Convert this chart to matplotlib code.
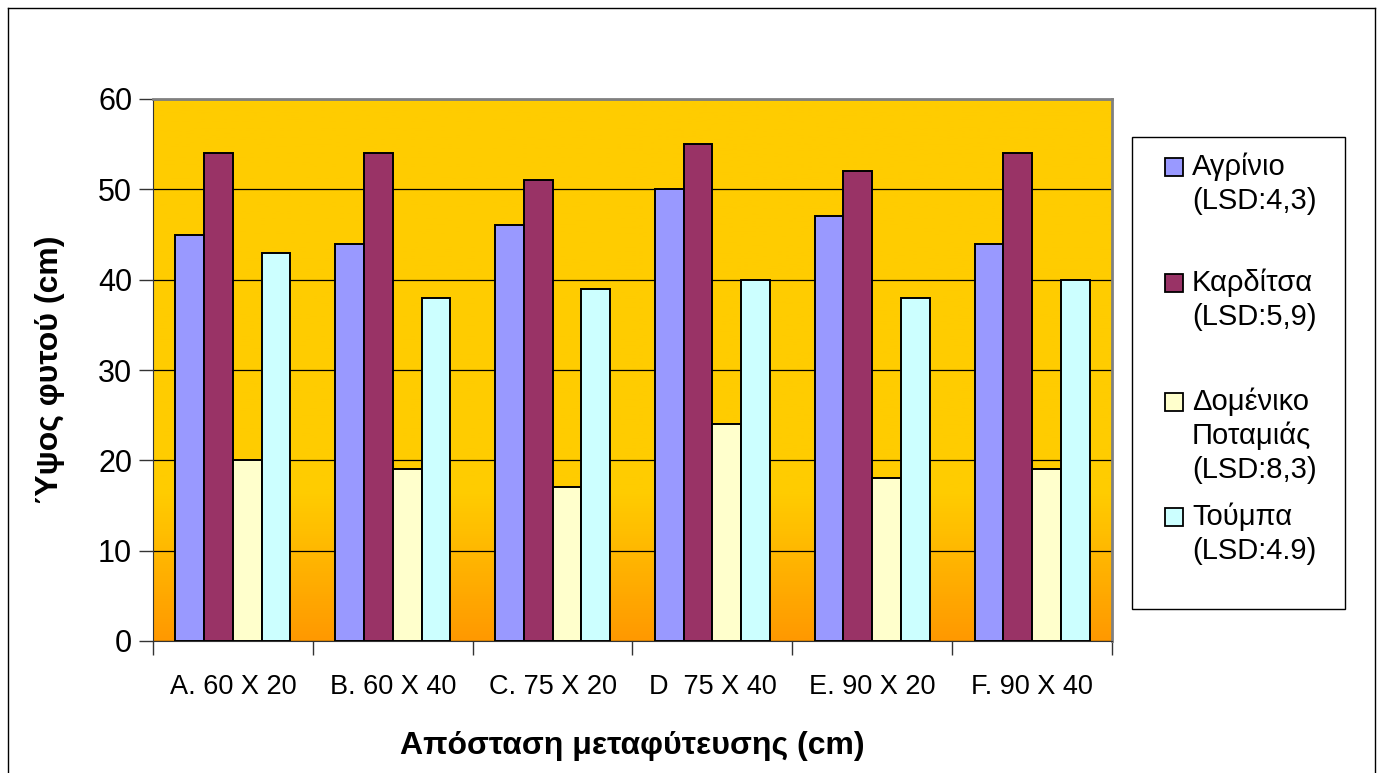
import numpy as np
import matplotlib
matplotlib.use("Agg")
import matplotlib.pyplot as plt
from matplotlib.colors import LinearSegmentedColormap
from matplotlib.patches import Rectangle
from matplotlib.lines import Line2D

plt.rcParams["font.family"] = ["Liberation Sans", "DejaVu Sans"]

categories = ["A. 60 X 20", "B. 60 X 40", "C. 75 X 20", "D  75 X 40",
              "E. 90 X 20", "F. 90 X 40"]
agrinio = [45, 44, 46, 50, 47, 44]
karditsa = [54, 54, 51, 55, 52, 54]
domeniko = [20, 19, 17, 24, 18, 19]
toumpa = [43, 38, 39, 40, 38, 40]

series = [agrinio, karditsa, domeniko, toumpa]
colors = ["#9999FF", "#993366", "#FFFFCC", "#CCFFFF"]
legend_labels = [["Αγρίνιο", "(LSD:4,3)"],
                 ["Καρδίτσα", "(LSD:5,9)"],
                 ["Δομένικο", "Ποταμιάς", "(LSD:8,3)"],
                 ["Τούμπα", "(LSD:4.9)"]]

W, H = 1382, 773
fig = plt.figure(figsize=(W / 100, H / 100), dpi=100)

# outer chart frame (bottom edge falls outside the picture)
for xs, ys in [([8, 8], [8, H + 5]), ([8, 1375], [8, 8]), ([1375, 1375], [8, H + 5])]:
    fig.add_artist(Line2D([x / W for x in xs], [1 - y / H for y in ys],
                          color="black", lw=1.0))

ax = fig.add_axes([153 / W, 1 - 641 / H, (1112 - 153) / W, (641 - 99) / H])

# gradient background: yellow, fading to orange near the bottom
cmap = LinearSegmentedColormap.from_list(
    "bg", [(0, "#FF9900"), (0.27, "#FFCC00"), (1, "#FFCC00")])
grad = np.linspace(0, 1, 300).reshape(-1, 1)
ax.imshow(grad, cmap=cmap, aspect="auto", origin="lower",
          extent=[-0.5, 5.5, 0, 60], zorder=0)

x = np.arange(len(categories))
bw = 0.18
for k, (vals, c) in enumerate(zip(series, colors)):
    ax.bar(x + (k - 1.5) * bw, vals, width=bw, color=c, edgecolor="black",
           linewidth=1.4, zorder=3)

ax.set_xlim(-0.5, 5.5)
ax.set_ylim(0, 60)
ax.set_yticks(range(0, 61, 10))
ax.yaxis.grid(True, color="black", lw=0.9, zorder=1)
ax.set_axisbelow(True)

ax.set_xticks(x)
ax.set_xticklabels(categories, fontsize=19.5)
ax.set_xticks(np.arange(-0.5, 6, 1), minor=True)
ax.tick_params(axis="x", which="major", length=0, pad=24)
ax.tick_params(axis="x", which="minor", length=10, width=1, color="#333333")
ax.tick_params(axis="y", length=10, width=1, labelsize=22, pad=5, color="#333333")

ax.spines["top"].set_color("#808080")
ax.spines["right"].set_color("#808080")
ax.spines["top"].set_linewidth(2)
ax.spines["right"].set_linewidth(2)
ax.spines["left"].set_color("#333333")
ax.spines["bottom"].set_color("#333333")

ax.set_ylabel("Ύψος φυτού (cm)", fontsize=23, fontweight="bold", labelpad=24)
ax.set_xlabel("Απόσταση μεταφύτευσης (cm)", fontsize=23, fontweight="bold",
              labelpad=22)

# legend box drawn by hand to keep Excel's line layout
fig.add_artist(Rectangle((1132 / W, 1 - 609 / H), (1345 - 1132) / W,
                         (609 - 137) / H, transform=fig.transFigure,
                         facecolor="white", edgecolor="black", lw=1.0))
line_h = 34
starts = [167, 283, 402, 517]
for lines, c, y0 in zip(legend_labels, colors, starts):
    fig.add_artist(Rectangle((1165 / W, 1 - (y0 + 9) / H), 18 / W, 18 / H,
                             transform=fig.transFigure, facecolor=c,
                             edgecolor="black", lw=1.3))
    for i, t in enumerate(lines):
        fig.text(1192 / W, 1 - (y0 + i * line_h) / H, t, fontsize=21,
                 va="center", ha="left")

fig.savefig("out.png", dpi=100)
